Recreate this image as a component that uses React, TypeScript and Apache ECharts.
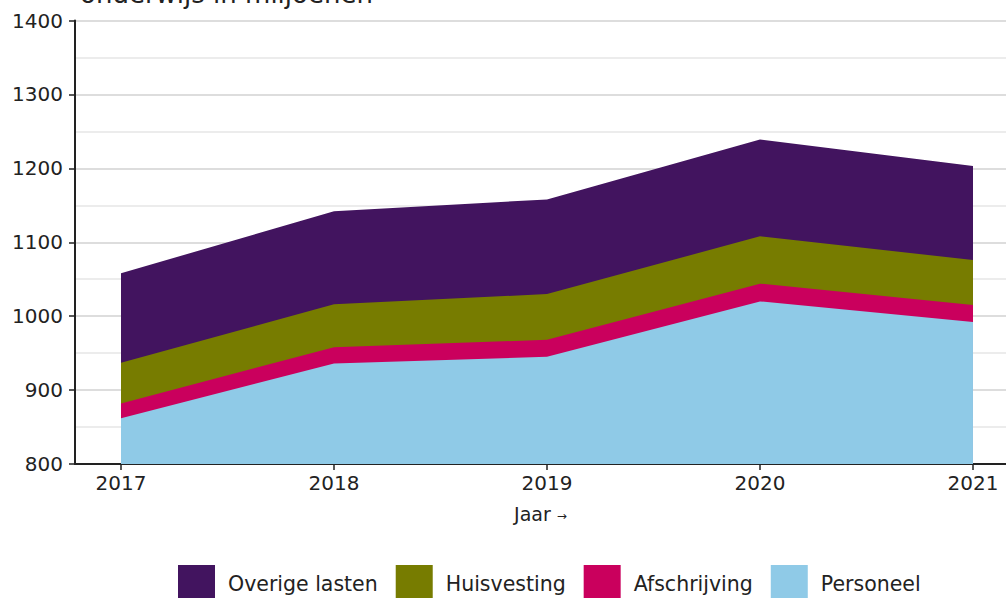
import React, { useEffect, useRef } from "react";
import * as echarts from "echarts";

const years = [2017, 2018, 2019, 2020, 2021];
const personeel = [862, 936, 945, 1020, 992];
const afschrijving = [20, 22, 23, 24, 23];
const huisvesting = [55, 58, 62, 64, 61];
const overige = [121, 126, 128, 131, 127];
const legendOrder = ["Overige lasten", "Huisvesting", "Afschrijving", "Personeel"];

const FONT = "Verdana, 'DejaVu Sans', sans-serif";
const TEXT = "#222";

export default function App() {
  const ref = useRef<HTMLDivElement>(null);
  useEffect(() => {
    if (!ref.current) return;
    const chart = echarts.init(ref.current, null, { renderer: "svg" });
    // cumulative stacks (bottom to top)
    const layers = [personeel, afschrijving, huisvesting, overige];
    const cum: number[][] = [];
    layers.forEach((arr, li) => {
      cum.push(arr.map((v, i) => (li === 0 ? v : cum[li - 1][i] + v)));
    });
    const mk = (name: string, vals: number[], color: string) => ({
      name,
      type: "line",
      data: years.map((y, i) => [y, vals[i]]),
      symbol: "none",
      lineStyle: { width: 0, color },
      itemStyle: { color },
      areaStyle: { color, opacity: 1, origin: "start" },
    });
    chart.setOption({
      animation: false,
      textStyle: { fontFamily: FONT, color: TEXT },
      grid: { left: 75, right: 0, top: 20.5, bottom: 134, containLabel: false },
      legend: {
        data: legendOrder,
        left: 178,
        top: 565,
        padding: 0,
        icon: "rect",
        itemWidth: 37,
        itemHeight: 37,
        itemGap: 18,
        textStyle: { fontSize: 20.5, color: TEXT, fontFamily: FONT, padding: [0, 0, 0, 8] },
      },
      graphic: [
        {
          type: "text",
          left: 80,
          top: -19,
          style: { text: "onderwijs in miljoenen", fontSize: 26, fontFamily: FONT, fill: TEXT },
        },
      ],
      xAxis: {
        type: "value",
        min: 2016.784,
        max: 2021.155,
        name: "Jaar {a|→}",
        nameLocation: "middle",
        nameGap: 40,
        nameTextStyle: {
          fontSize: 19,
          color: TEXT,
          fontFamily: FONT,
          rich: { a: { fontSize: 12, color: TEXT, fontFamily: FONT, padding: [4, 0, 0, 0] } },
        },
        axisLine: { show: true, lineStyle: { color: "#222", width: 2 } },
        axisTick: { show: true, customValues: years, length: 6, lineStyle: { color: "#222", width: 1.5 } },
        axisLabel: {
          customValues: years,
          formatter: (v: number) => String(v),
          fontSize: 20,
          color: TEXT,
          fontFamily: FONT,
          margin: 9,
        },
        splitLine: { show: false },
      },
      yAxis: {
        type: "value",
        min: 800,
        max: 1400,
        interval: 100,
        axisLine: { show: true, lineStyle: { color: "#222", width: 2 } },
        axisTick: { show: true, length: 6, lineStyle: { color: "#222", width: 1.5 } },
        axisLabel: {
          fontSize: 20,
          color: TEXT,
          fontFamily: FONT,
          margin: 12,
          formatter: (v: number) => String(v),
        },
        splitLine: { show: true, lineStyle: { color: "#d2d2d2", width: 1.5 } },
        minorTick: { show: false, splitNumber: 2 },
        minorSplitLine: { show: true, lineStyle: { color: "#e6e6e6", width: 1.5 } },
      },
      series: [
        mk("Overige lasten", cum[3], "#42145f"),
        mk("Huisvesting", cum[2], "#777c00"),
        mk("Afschrijving", cum[1], "#ca005d"),
        mk("Personeel", cum[0], "#8fcae7"),
      ],
    });
    return () => chart.dispose();
  }, []);
  return (
    <div
      ref={ref}
      style={{ position: "fixed", left: 0, top: 0, width: 1006, height: 598, background: "#fff" }}
    />
  );
}
